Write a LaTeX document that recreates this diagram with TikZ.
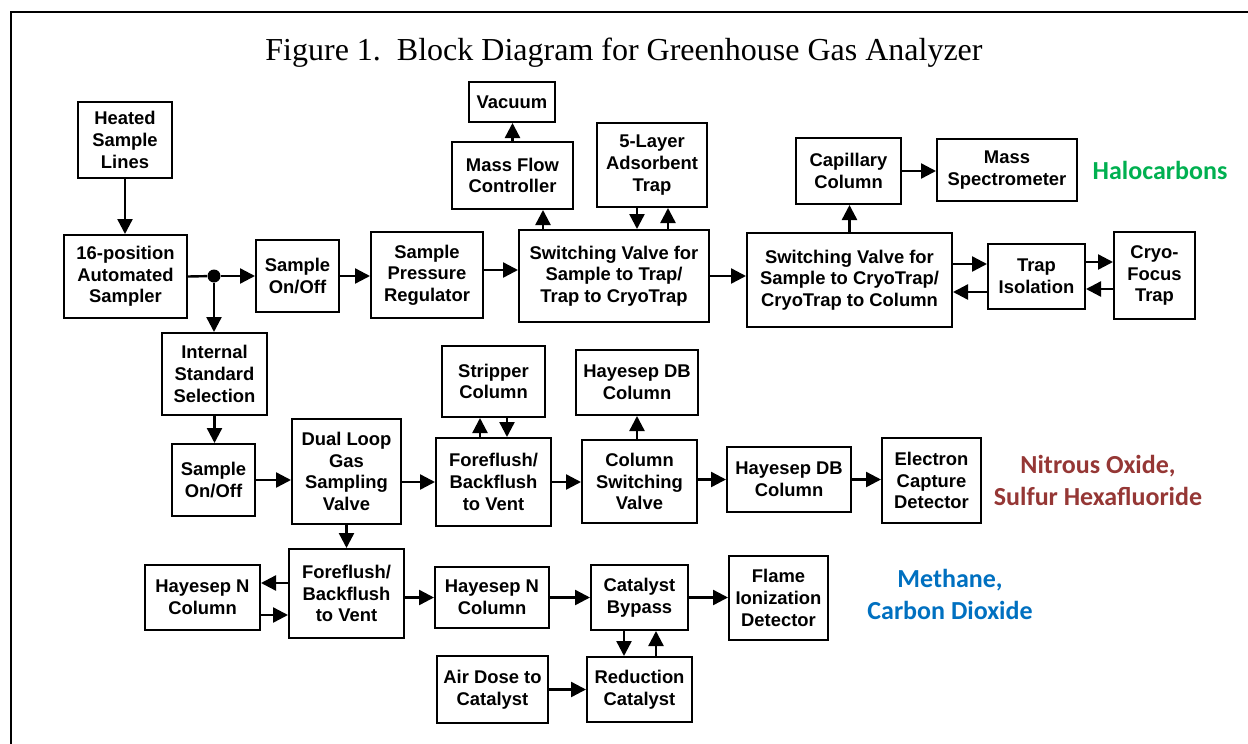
\documentclass[tikz,border=0pt]{standalone}
\usepackage{fontspec}
\setmainfont{Liberation Serif}
\setsansfont{Liberation Sans}
\newfontfamily\labelfont{Carlito}
\usepackage{xcolor}
\usetikzlibrary{arrows.meta}
\definecolor{halogreen}{HTML}{00B050}
\definecolor{nitrored}{HTML}{953735}
\definecolor{methblue}{HTML}{0070C0}

\begin{document}
\begin{tikzpicture}[x=0.5pt, y=-0.5pt,
  box/.style={draw, line width=1pt, align=center, inner sep=0pt,
              font=\sffamily\bfseries\fontsize{9.2}{10.8}\selectfont},
  arr/.style={-{Triangle[length=7.5pt, width=7.5pt]}, line width=1.2pt},
  gas/.style={align=center, font=\labelfont\bfseries\fontsize{13}{16}\selectfont}
]
\useasboundingbox (0,0) rectangle (1248,744);
\draw[line width=0.9pt] (11,744) -- (11,12) -- (1248,12);
\node[anchor=base, font=\fontsize{16}{19}\selectfont] (title) at (624,60)
  {Figure 1.~~Block Diagram for Greenhouse Gas Analyzer};

\node[box, minimum width=47pt, minimum height=38pt] (heat) at (125,140) {Heated\\Sample\\Lines};
\node[box, minimum width=61.5pt, minimum height=41.5pt] (auto) at (125.5,276.5) {16-position\\Automated\\Sampler};
\node[circle, fill, inner sep=0pt, minimum size=6.5pt] (dot) at (214,276) {};
\node[box, minimum width=41.5pt, minimum height=36pt] (onoffA) at (297.5,276) {Sample\\On/Off};
\node[box, minimum width=56pt, minimum height=43pt] (spr) at (427,275) {Sample\\Pressure\\Regulator};
\node[box, minimum width=95pt, minimum height=46pt] (svtrap) at (614,276) {Switching Valve for\\Sample to Trap/\\Trap to CryoTrap};
\node[box, minimum width=60.5pt, minimum height=33.5pt] (mfc) at (512.5,175.5) {Mass Flow\\Controller};
\node[box, minimum width=43pt, minimum height=20pt] (vac) at (512,102) {Vacuum};
\node[box, minimum width=55pt, minimum height=42pt] (adsorb) at (652,165) {5-Layer\\Adsorbent\\Trap};
\node[box, minimum width=52.5pt, minimum height=33pt] (capcol) at (848.5,171) {Capillary\\Column};
\node[box, minimum width=70pt, minimum height=31pt] (massspec) at (1007,170) {Mass\\Spectrometer};
\node[box, minimum width=102.5pt, minimum height=47pt] (svcryo) at (849.5,280) {Switching Valve for\\Sample to CryoTrap/\\CryoTrap to Column};
\node[box, minimum width=48.5pt, minimum height=32.5pt] (trapiso) at (1036.5,276.5) {Trap\\Isolation};
\node[box, minimum width=40.5pt, minimum height=43.5pt] (cryo) at (1154.5,275.5) {Cryo-\\Focus\\Trap};
\node[gas, text=halogreen] (halo) at (1160,170) {Halocarbons};

\node[box, minimum width=52.5pt, minimum height=41pt] (intstd) at (214.5,374) {Internal\\Standard\\Selection};
\node[box, minimum width=41.5pt, minimum height=36pt] (onoffB) at (213.5,480) {Sample\\On/Off};
\node[box, minimum width=54.5pt, minimum height=52.5pt] (dualloop) at (346.5,471.5) {Dual Loop\\Gas\\Sampling\\Valve};
\node[box, minimum width=51.5pt, minimum height=35.5pt] (stripper) at (493.5,381.5) {Stripper\\Column};
\node[box, minimum width=57.5pt, minimum height=44pt] (flushA) at (493.5,482) {Foreflush/\\Backflush\\to Vent};
\node[box, minimum width=61pt, minimum height=32.5pt] (dbtop) at (637,382.5) {Hayesep DB\\Column};
\node[box, minimum width=57.5pt, minimum height=41.5pt] (colsw) at (639.5,481.5) {Column\\Switching\\Valve};
\node[box, minimum width=62pt, minimum height=32.5pt] (dbmid) at (789,479.5) {Hayesep DB\\Column};
\node[box, minimum width=49.5pt, minimum height=42.5pt] (ecd) at (931.5,480.5) {Electron\\Capture\\Detector};
\node[gas, text=nitrored] (nitro) at (1098,480) {Nitrous Oxide,\\Sulfur Hexafluoride};

\node[box, minimum width=57.5pt, minimum height=32.5pt] (hayNl) at (202.5,597.5) {Hayesep N\\Column};
\node[box, minimum width=57.5pt, minimum height=44.5pt] (flushB) at (346.5,593.5) {Foreflush/\\Backflush\\to Vent};
\node[box, minimum width=57pt, minimum height=30.5pt] (hayNm) at (492,597.5) {Hayesep N\\Column};
\node[box, minimum width=55.5pt, minimum height=33.5pt] (airdose) at (492.5,689.5) {Air Dose to\\Catalyst};
\node[box, minimum width=48.5pt, minimum height=32.5pt] (catbyp) at (639.5,597.5) {Catalyst\\Bypass};
\node[box, minimum width=49.5pt, minimum height=42pt] (fid) at (778.5,598) {Flame\\Ionization\\Detector};
\node[box, minimum width=52.5pt, minimum height=32.5pt] (redcat) at (639.5,689.5) {Reduction\\Catalyst};
\node[gas, text=methblue] (meth) at (950,594) {Methane,\\Carbon Dioxide};

\draw[arr] (heat.south) -- (heat.south |- auto.north);
\draw[line width=1.2pt] (auto.east) -- (dot);
\draw[arr] (dot) -- (dot -| onoffA.west);
\draw[arr] (dot) -- (dot |- intstd.north);
\draw[arr] (onoffA.east) -- (onoffA.east -| spr.west);
\draw[arr] ([yshift=2.5pt]spr.east) -- ([yshift=2.5pt]spr.east -| svtrap.west);
\draw[arr] ([xshift=15.25pt]mfc.south |- svtrap.north) -- ([xshift=15.25pt]mfc.south);
\draw[arr] (mfc.north) -- (mfc.north |- vac.south);
\draw[arr] ([xshift=-7.5pt]adsorb.south) -- ([xshift=-7.5pt]adsorb.south |- svtrap.north);
\draw[arr] ([xshift=8pt]adsorb.south |- svtrap.north) -- ([xshift=8pt]adsorb.south);
\draw[arr] (svtrap.east) -- (svtrap.east -| svcryo.west);
\draw[arr] (svcryo.north) -- (svcryo.north |- capcol.south);
\draw[arr] (capcol.east) -- (capcol.east -| massspec.west);
\draw[arr] ([yshift=6.25pt]trapiso.west -| svcryo.east) -- ([yshift=6.25pt]trapiso.west);
\draw[arr] ([yshift=-7.75pt]trapiso.west) -- ([yshift=-7.75pt]trapiso.west -| svcryo.east);
\draw[arr] ([yshift=7.25pt]trapiso.east) -- ([yshift=7.25pt]trapiso.east -| cryo.west);
\draw[arr] ([yshift=-6.25pt]trapiso.east -| cryo.west) -- ([yshift=-6.25pt]trapiso.east);

\draw[arr] (intstd.south) -- (intstd.south |- onoffB.north);
\draw[arr] (onoffB.east) -- (onoffB.east -| dualloop.west);
\draw[arr] (flushA.west -| dualloop.east) -- (flushA.west);
\draw[arr] ([xshift=-6.75pt]stripper.south |- flushA.north) -- ([xshift=-6.75pt]stripper.south);
\draw[arr] ([xshift=6.75pt]stripper.south) -- ([xshift=6.75pt]stripper.south |- flushA.north);
\draw[arr] (flushA.east) -- (flushA.east -| colsw.west);
\draw[arr] (dbtop.south |- colsw.north) -- (dbtop.south);
\draw[arr] (dbmid.west -| colsw.east) -- (dbmid.west);
\draw[arr] (dbmid.east) -- (dbmid.east -| ecd.west);

\draw[arr] (dualloop.south) -- (flushB.north);
\draw[arr] ([yshift=7.25pt]hayNl.east -| flushB.west) -- ([yshift=7.25pt]hayNl.east);
\draw[arr] ([yshift=-8.75pt]hayNl.east) -- ([yshift=-8.75pt]hayNl.east -| flushB.west);
\draw[arr] (hayNm.west -| flushB.east) -- (hayNm.west);
\draw[arr] (hayNm.east) -- (hayNm.east -| catbyp.west);
\draw[arr] (catbyp.east) -- (catbyp.east -| fid.west);
\draw[arr] ([xshift=-7.75pt]catbyp.south) -- ([xshift=-7.75pt]catbyp.south |- redcat.north);
\draw[arr] ([xshift=8.25pt]catbyp.south |- redcat.north) -- ([xshift=8.25pt]catbyp.south);
\draw[arr] (airdose.east) -- (airdose.east -| redcat.west);
\end{tikzpicture}
\end{document}
